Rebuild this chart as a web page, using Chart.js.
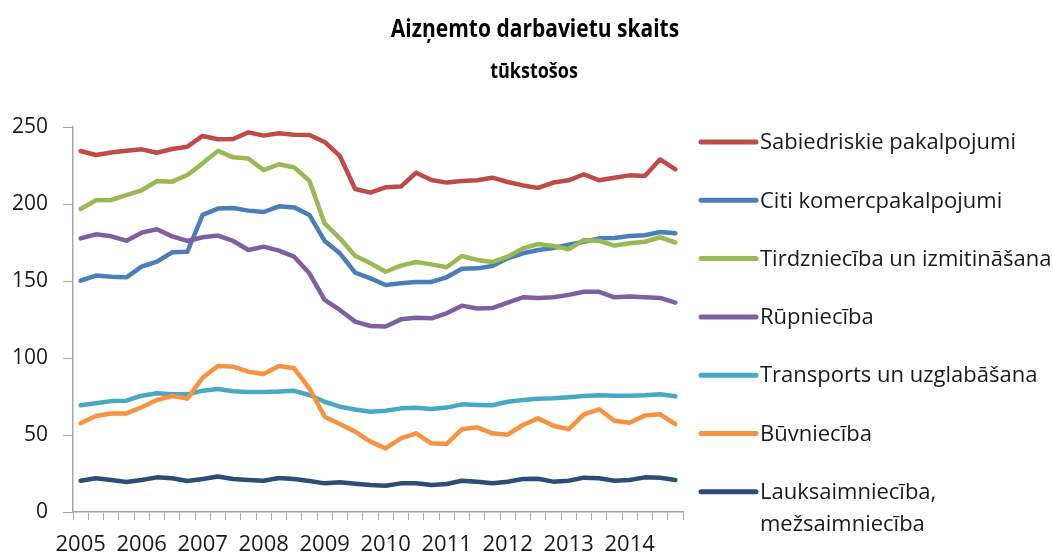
<!DOCTYPE html>
<html>
<head>
<meta charset="utf-8">
<script src="https://cdn.jsdelivr.net/npm/chart.js@4/dist/chart.umd.min.js"></script>
<style>
	html, body { margin: 0; padding: 0; background: #fff; }
	#wrap { position: relative; width: 1053px; height: 556px; }
</style>
</head>
<body>
<div id="wrap"><canvas id="graph"></canvas></div>
<script>
"use strict";

// categories (quarters 2005 Q1 .. 2014 Q4)
const years		= ['2005','2006','2007','2008','2009','2010','2011','2012','2013','2014']
const quarters	= ['Q1','Q2','Q3','Q4']

// y ticks
const y_ticks	= [0, 50, 100, 150, 200, 250]

// series names (legend)
const series_names = [
	'Sabiedriskie pakalpojumi',
	'Citi komercpakalpojumi',
	'Tirdzniecība un izmitināšana',
	'Rūpniecība',
	'Transports un uzglabāšana',
	'Būvniecība',
	'Lauksaimniecība,\nmežsaimniecība'
]

// series values (thousands)
const sabiedriskie = [234.4, 231.8, 233.5, 234.6, 235.5, 233.3, 235.7, 237.2, 244.2, 242, 242.2, 246.5, 244.4, 245.9, 245, 244.8, 240.3, 231.2, 209.7, 207.4, 210.8, 211.3, 220.3, 215.6, 213.9, 215, 215.4, 217.1, 214.3, 212.1, 210.4, 213.9, 215.4, 219.3, 215.4, 217.1, 218.6, 218.2, 229, 222.5]
const citi = [150.2, 153.5, 152.8, 152.4, 159.3, 162.6, 168.6, 169, 192.9, 197, 197.4, 195.7, 194.8, 198.5, 197.8, 192.9, 176, 168, 155.5, 151.7, 147.4, 148.5, 149.4, 149.4, 152.4, 158, 158.2, 159.7, 164.7, 168, 170.1, 171.4, 173.6, 175.5, 177.7, 177.9, 179.2, 179.7, 181.8, 181]
const tirdznieciba = [196.8, 202.4, 202.6, 205.8, 208.9, 214.9, 214.5, 218.8, 226.4, 234.5, 230.3, 229.5, 222, 225.8, 223.8, 215.1, 187.4, 177.7, 166.4, 161.5, 156, 160, 162.3, 160.8, 158.9, 166.2, 163.7, 162.3, 165.8, 171.2, 174, 172.7, 170.6, 176.6, 176, 173, 174.5, 175.5, 178.4, 175]
const rupnieciba = [177.7, 180.3, 179, 176.2, 181.4, 183.6, 179, 176, 178.4, 179.5, 176, 170.1, 172.3, 169.7, 165.8, 155, 137.7, 131.2, 123.6, 120.8, 120.4, 125.1, 126.2, 125.8, 129, 134, 132.2, 132.4, 136, 139.4, 139, 139.4, 141, 143, 143, 139.4, 140, 139.5, 139, 136]
const transports = [69.3, 70.6, 72, 72.3, 75.5, 77.1, 76.4, 76.4, 78.8, 79.9, 78.4, 78, 78, 78.2, 78.7, 76, 71.6, 68.4, 66.6, 65.1, 65.8, 67.3, 67.7, 66.9, 67.8, 69.9, 69.5, 69.3, 71.6, 72.7, 73.6, 73.8, 74.5, 75.3, 75.8, 75.5, 75.5, 75.8, 76.4, 75.1]
const buvnieciba = [57.6, 62.3, 64, 64, 68, 72.7, 75.3, 73.6, 87.2, 94.8, 94.4, 91.1, 89.6, 94.8, 93.3, 80.3, 61.9, 57.1, 52.2, 45.7, 41.3, 47.8, 51.1, 44.6, 44.2, 53.7, 55, 51.1, 50.2, 56.5, 60.8, 56, 53.7, 63.4, 66.7, 59.3, 58, 62.6, 63.4, 57.1]
const lauksaimnieciba = [20.3, 21.9, 20.8, 19.5, 20.8, 22.5, 21.9, 20.1, 21.4, 23, 21.4, 20.8, 20.3, 22.1, 21.4, 20.1, 18.6, 19.3, 18.4, 17.5, 17.1, 18.6, 18.6, 17.5, 18.2, 20.3, 19.7, 18.6, 19.7, 21.4, 21.6, 19.7, 20.3, 22.3, 21.9, 20.3, 20.8, 22.5, 22.3, 20.8]

const series_values = [sabiedriskie, citi, tirdznieciba, rupnieciba, transports, buvnieciba, lauksaimnieciba]
const series_colors = ['#BE4B48', '#4A7EBB', '#98B954', '#7D60A0', '#46AAC5', '#F69240', '#2C4D75']

const FONT		= "'Open Sans', 'Noto Sans', sans-serif"
const AXIS_GREY	= '#A6A6A6'
const TEXT		= '#1a1a1a'


// labels
	const labels = []
	years.forEach(y => quarters.forEach(q => labels.push(y + ' ' + q)))

// datasets (excel order: later series on top)
	const datasets = series_names.map((name, i) => ({
		label			: name,
		data			: series_values[i],
		borderColor		: series_colors[i],
		backgroundColor	: series_colors[i],
		borderWidth		: 4.5,
		borderJoinStyle	: 'round',
		borderCapStyle	: 'round',
		pointRadius		: 0,
		tension			: 0,
		order			: series_names.length - i
	}))


/**
 * TITLE + LEGEND PLUGIN
 * Draws the two title lines and the right side legend
 */
const decorations = {
	id : 'decorations',
	afterDraw : function(chart) {
		const ctx = chart.ctx
		ctx.save()

		// title (original font is taller/narrower, stretch a bit)
			const draw_title = function(text, size, x, baseline) {
				ctx.save()
				ctx.translate(x, baseline)
				ctx.scale(1, 1.18)
				ctx.font = "bold " + size + "px " + FONT
				ctx.fillText(text, 0, 0)
				ctx.restore()
			}
			ctx.fillStyle		= '#000'
			ctx.textAlign		= 'center'
			ctx.textBaseline	= 'alphabetic'
			draw_title('Aizņemto darbavietu skaits', 21, 535, 37)
			draw_title('tūkstošos', 18, 534, 78)

		// legend
			const x0 = 701, x1 = 756, y0 = 142, step = 58.3
			ctx.textAlign		= 'left'
			ctx.textBaseline	= 'middle'
			ctx.font			= "22px " + FONT
			chart.data.datasets.forEach((ds, i) => {
				const y = y0 + i * step
				ctx.strokeStyle	= ds.borderColor
				ctx.lineWidth	= 5
				ctx.lineCap		= 'round'
				ctx.beginPath()
				ctx.moveTo(x0, y)
				ctx.lineTo(x1, y)
				ctx.stroke()

				ctx.fillStyle = TEXT
				ds.label.split('\n').forEach((line, k) => {
					ctx.fillText(line, 760, y + 1 + k * 32)
				})
			})

		ctx.restore()
	}
}


const chart = new Chart(document.getElementById('graph'), {
	type : 'line',
	data : {
		labels		: labels,
		datasets	: datasets
	},
	options : {
		responsive			: true,
		maintainAspectRatio	: false,
		animation			: false,
		layout : {
			padding : { top: 127, right: 370, bottom: 0, left: 0 }
		},
		scales : {
			x : {
				type	: 'category',
				offset	: true,
				grid : {
					offset			: true,
					drawOnChartArea	: false,
					drawTicks		: true,
					tickLength		: 8,
					color			: AXIS_GREY
				},
				border : { color: AXIS_GREY, width: 1.5 },
				ticks : {
					autoSkip	: false,
					maxRotation	: 0,
					padding		: 12,
					color		: TEXT,
					font		: { family: FONT, size: 22 },
					callback	: function(value, index) {
						return index % 4 === 0 ? years[index / 4] : ''
					}
				},
				afterFit : function(scale) { scale.height = 44 }
			},
			y : {
				min : y_ticks[0],
				max : y_ticks[y_ticks.length - 1],
				grid : {
					drawOnChartArea	: false,
					drawTicks		: true,
					tickLength		: 10,
					color			: AXIS_GREY
				},
				border : { color: AXIS_GREY, width: 1.5 },
				ticks : {
					stepSize	: 50,
					padding		: 15,
					color		: TEXT,
					font		: { family: FONT, size: 21 }
				},
				afterFit : function(scale) { scale.width = 73 }
			}
		},
		plugins : {
			legend	: { display: false },
			tooltip	: { enabled: false },
			title	: { display: false }
		}
	},
	plugins : [decorations]
})
</script>
</body>
</html>
